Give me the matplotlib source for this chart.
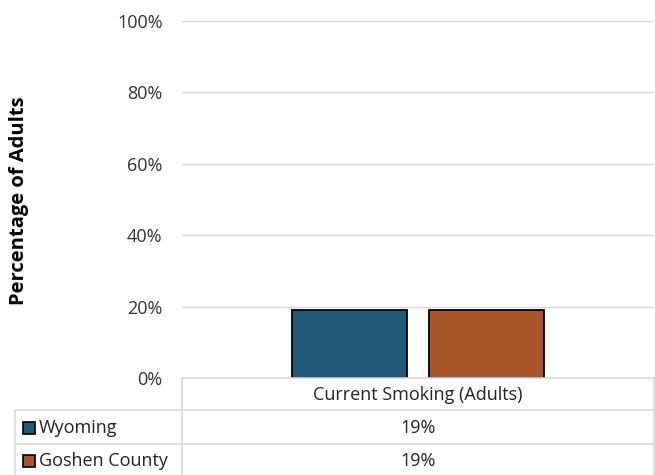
import matplotlib
matplotlib.use("Agg")
import matplotlib.pyplot as plt
from matplotlib.lines import Line2D
from matplotlib.patches import Rectangle

plt.rcParams['font.family'] = ['Open Sans', 'DejaVu Sans']

categories = ["Current Smoking (Adults)"]
series_names = ["Wyoming", "Goshen County"]
values = [[19], [19]]
value_labels = [["19%"], ["19%"]]
colors = ["#1f5a7a", "#a9572a"]
yticks = [0, 20, 40, 60, 80, 100]
ytick_labels = ["0%", "20%", "40%", "60%", "80%", "100%"]
ylabel = "Percentage of Adults"

W, H = 655, 475
fig = plt.figure(figsize=(W / 100, H / 100), dpi=100)

def fx(px):
    return px / W

def fy(py):
    return 1 - py / H

ax_l, ax_r, ax_t, ax_b = 182, 654, 21, 378
ax = fig.add_axes([fx(ax_l), fy(ax_b), fx(ax_r) - fx(ax_l), fy(ax_t) - fy(ax_b)])
ax.set_xlim(-0.5, 0.5)
ax.set_ylim(0, 100)

bw = 0.243
offsets = [-0.145, 0.145]
for i, name in enumerate(series_names):
    xs = [j + offsets[i] for j in range(len(categories))]
    ax.bar(xs, values[i], width=bw, color=colors[i], edgecolor="black", linewidth=1.3, zorder=3)

ax.set_yticks(yticks)
ax.set_yticklabels(ytick_labels, fontsize=13, color="#333333")
ax.tick_params(axis='y', length=0, pad=14)
ax.set_xticks([])
ax.grid(axis='y', color="#d9d9d9", linewidth=1)
ax.set_axisbelow(True)
for s in ax.spines.values():
    s.set_visible(False)

fig.text(fx(19), fy(201), ylabel, rotation=90, fontsize=14.5, fontweight='bold', ha='center', va='center', color='black')

# data table
lc = "#d9d9d9"
def hline(x0, x1, y):
    fig.add_artist(Line2D([fx(x0), fx(x1)], [fy(y), fy(y)], color=lc, linewidth=1.2))
def vline(x, y0, y1):
    fig.add_artist(Line2D([fx(x), fx(x)], [fy(y0), fy(y1)], color=lc, linewidth=1.2))

hline(ax_l, ax_r, ax_b)
hline(15, ax_r, 410)
hline(15, ax_r, 444)
vline(ax_l, ax_b, H)
vline(15, 410, H)
vline(ax_r, ax_b, H)

cx = (ax_l + ax_r) / 2
fig.text(fx(cx), fy(395), categories[0], fontsize=13, ha='center', va='center', color='#222222')
row_y = [428, 461]
for i, name in enumerate(series_names):
    fig.add_artist(Rectangle((fx(23), fy(row_y[i] + 6)), fx(12), fy(0) - fy(12),
                             facecolor=colors[i], edgecolor='black', linewidth=1.2, transform=fig.transFigure))
    fig.text(fx(39), fy(row_y[i]), name, fontsize=13, ha='left', va='center', color='#222222')
    fig.text(fx(cx), fy(row_y[i]), value_labels[i][0], fontsize=13, ha='center', va='center', color='#222222')

fig.savefig("out.png", dpi=100)
